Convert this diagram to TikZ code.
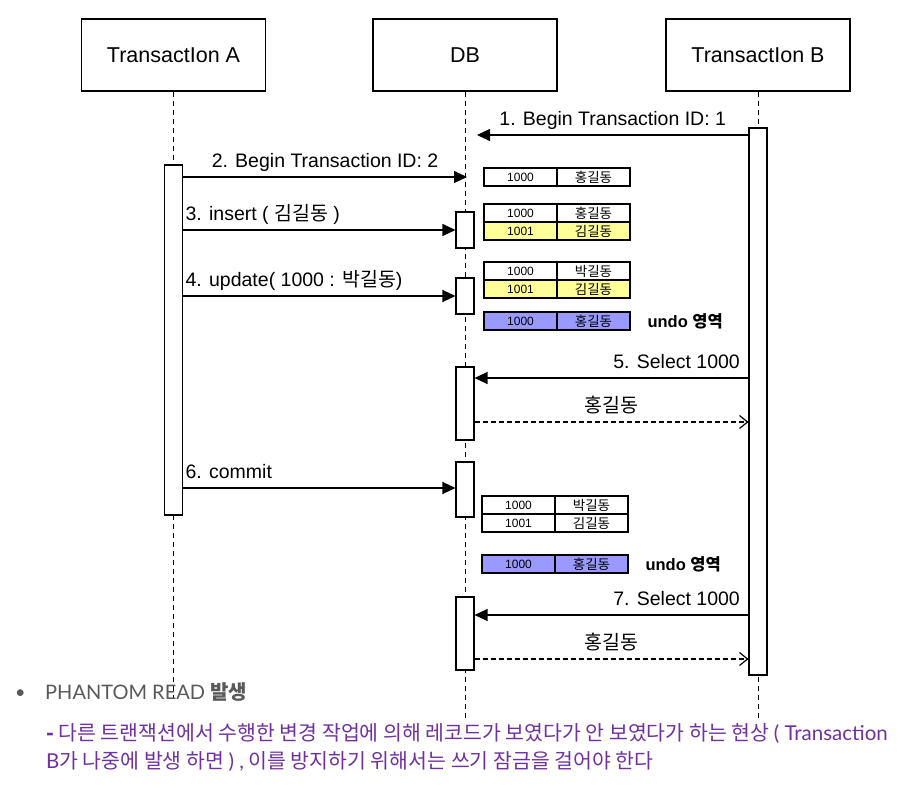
\documentclass[tikz,border=0pt]{standalone}
\usepackage{fontspec}
\setmainfont{Liberation Sans}
\newfontfamily\kr{Noto Sans CJK KR}
\newfontfamily\lato{Lato}
\usepackage{xcolor}
\usepackage{tikz}
\usetikzlibrary{arrows.meta,positioning}
\definecolor{cellyellow}{RGB}{255,255,153}
\definecolor{cellblue}{RGB}{153,153,255}
\definecolor{notepurple}{RGB}{112,48,160}
\definecolor{notegray}{RGB}{89,89,89}
\newcommand{\hk}[1]{{\kr #1}}
\newcommand{\kc}[1]{{\kr\fontsize{13.5}{14}\selectfont #1}}

\begin{document}
\begin{tikzpicture}[x=1pt,y=-1pt,font=\fontsize{19.5}{22}\selectfont]
  \tikzset{
    head/.style={draw,line width=1.1pt,minimum width=184pt,minimum height=72pt,inner sep=0pt,font=\fontsize{21.5}{24}\selectfont},
    life/.style={line width=1pt,dash pattern=on 5pt off 4pt},
    act/.style={draw,fill=white,line width=1.1pt,minimum width=18pt,inner sep=0pt},
    msg/.style={line width=1.2pt,-{Triangle[length=13pt,width=12pt]}},
    ret/.style={line width=1.2pt,dash pattern=on 5pt off 3pt,-{Straight Barb[length=8pt,width=13pt]}},
    cell/.style={draw,line width=1.3pt,fill=#1,minimum width=73pt,minimum height=18pt,inner sep=0pt,outer sep=0pt,font=\fontsize{12}{13}\selectfont},
    cell/.default=white,
    undo/.style={anchor=west,font=\bfseries\fontsize{16.5}{18}\selectfont},
    lbl/.style={inner sep=2pt,text depth=0pt}
  }
  \useasboundingbox (0,0) rectangle (899,784);

  % headers and lifelines
  \node[head] (txa) at (173.5,55) {TransactIon A};
  \node[head] (db)  at (465,55)   {DB};
  \node[head] (txb) at (758,55)   {TransactIon B};
  \coordinate (txa end) at (173.5,698);
  \coordinate (db end)  at (465,720);
  \coordinate (txb end) at (758,720);
  \draw[life] (txa) -- (txa end);
  \draw[life] (db) -- (db end);
  \draw[life] (txb) -- (txb end);

  % activations
  \node[act,minimum height=350pt] (acta) at (173.5,340) {};
  \node[act,minimum height=547pt] (actb) at (758,401.5) {};
  \node[act,minimum height=36pt] (db1) at (465,230) {};
  \node[act,minimum height=36pt] (db2) at (465,296) {};
  \node[act,minimum height=73pt] (db3) at (465,403.5) {};
  \node[act,minimum height=55pt] (db4) at (465,489.5) {};
  \node[act,minimum height=73pt] (db5) at (465,633.5) {};

  % messages
  \coordinate (m1) at (477,135);
  \coordinate (m2) at (467,177);
  \draw[msg] (actb.west |- m1) -- (m1) node[lbl,midway,above=7pt] {1. Begin Transaction ID: 1};
  \draw[msg] (acta.east |- m2) -- (m2) node[lbl,midway,above=7pt] {2. Begin Transaction ID: 2};
  \draw[msg] (acta.east |- db1) -- (db1.west) node[lbl,pos=0,above right=7pt and 0pt] {3. insert ( \hk{김길동} )};
  \draw[msg] (acta.east |- db2.center) -- (db2.west) node[lbl,pos=0,above right=7pt and 0pt] {4. update( 1000 : \hk{박길동})};
  \draw[msg] (actb.west |- 0,378) -- (db3.east |- 0,378) node[lbl,pos=0,above left=7pt and 6pt] {5. Select 1000};
  \draw[ret] (db3.east |- 0,422) -- (actb.west |- 0,422) node[lbl,midway,above=7pt] {\hk{홍길동}};
  \draw[msg] (acta.east |- 0,488) -- (db4.west |- 0,488) node[lbl,pos=0,above right=7pt and 0pt] {6. commit};
  \draw[msg] (actb.west |- 0,615) -- (db5.east |- 0,615) node[lbl,pos=0,above left=7pt and 6pt] {7. Select 1000};
  \draw[ret] (db5.east |- 0,659) -- (actb.west |- 0,659) node[lbl,midway,above=7pt] {\hk{홍길동}};

  % record tables
  \node[cell] (r1k) at (520.5,177) {1000};
  \node[cell,right=0pt of r1k] (r1v) {\kc{홍길동}};
  \node[cell] (r2k) at (520.5,213) {1000};
  \node[cell,right=0pt of r2k] (r2v) {\kc{홍길동}};
  \node[cell=cellyellow,below=0pt of r2k] (r3k) {1001};
  \node[cell=cellyellow,right=0pt of r3k] (r3v) {\kc{김길동}};
  \node[cell] (r4k) at (520.5,271) {1000};
  \node[cell,right=0pt of r4k] (r4v) {\kc{박길동}};
  \node[cell=cellyellow,below=0pt of r4k] (r5k) {1001};
  \node[cell=cellyellow,right=0pt of r5k] (r5v) {\kc{김길동}};
  \node[cell=cellblue] (u1k) at (520.5,321) {1000};
  \node[cell=cellblue,right=0pt of u1k] (u1v) {\kc{홍길동}};
  \node[undo,right=14pt of u1v] (undo1) {undo {\kr\bfseries 영역}};
  \node[cell] (r6k) at (518.5,505) {1000};
  \node[cell,right=0pt of r6k] (r6v) {\kc{박길동}};
  \node[cell,below=0pt of r6k] (r7k) {1001};
  \node[cell,right=0pt of r7k] (r7v) {\kc{김길동}};
  \node[cell=cellblue] (u2k) at (518.5,564) {1000};
  \node[cell=cellblue,right=0pt of u2k] (u2v) {\kc{홍길동}};
  \node[undo,right=14pt of u2v] (undo2) {undo {\kr\bfseries 영역}};

  % note below
  \node[anchor=base west,inner sep=0pt,text=notegray,font=\lato\fontsize{18}{20}\selectfont] (bullet) at (15,698) {•};
  \node[anchor=base west,inner sep=0pt,text=notegray,font=\fontsize{20}{22}\selectfont] (phantom) at (45,699) {{\lato PHANTOM READ} {\kr\bfseries 발생}};
  \node[anchor=base west,inner sep=0pt,text=notepurple,font=\kr\fontsize{20.5}{22}\selectfont] (note1) at (46,740) {{\bfseries -} 다른 트랜잭션에서 수행한 변경 작업에 의해 레코드가 보였다가 안 보였다가 하는 현상 {\lato( Transaction}};
  \node[anchor=base west,inner sep=0pt,text=notepurple,font=\kr\fontsize{20.5}{22}\selectfont,xscale=1] (note2) at (46,768) {{\lato B}가 나중에 발생 하면 {\lato ) ,} 이를 방지하기 위해서는 쓰기 잠금을 걸어야 한다};
\end{tikzpicture}
\end{document}
